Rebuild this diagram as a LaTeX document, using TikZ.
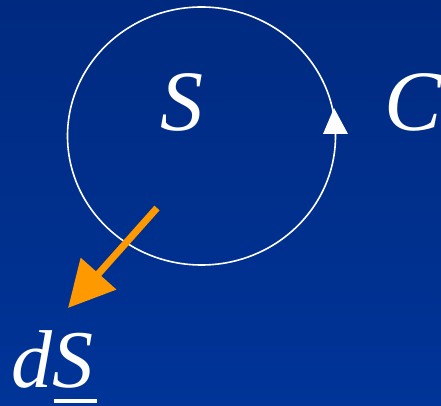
\documentclass[tikz,border=0pt]{standalone}
\usepackage{fontspec}
\setmainfont{Liberation Serif}
\usetikzlibrary{arrows.meta,shapes.geometric}
\definecolor{bgtop}{RGB}{0,42,128}
\definecolor{bgbot}{RGB}{0,52,152}
\definecolor{vecorange}{RGB}{255,153,0}
\tikzset{
  lbl/.style={text=white, inner sep=0pt, anchor=base, font=\fontsize{86}{90}\selectfont\itshape},
  loopline/.style={draw=white, line width=1.6pt},
  vec/.style={draw=vecorange, line width=7pt, -{Triangle[length=46pt,width=46pt]}}
}
\begin{document}
\begin{tikzpicture}[x=1pt,y=-1pt]
\shade[top color=bgtop, bottom color=bgbot] (0,0) rectangle (441,406);
\useasboundingbox (0,0) rectangle (441,406);
\node[loopline, ellipse, minimum width=268pt, minimum height=258pt, inner sep=0pt] (loop) at (201.5,136) {};
\coordinate (tip) at (334,108);
\fill[white] (tip) -- (323,134) -- (348,134) -- cycle;
\node[lbl] (S) at (182,131) {S};
\node[lbl, anchor=base west] (C) at (384,131) {C};
\coordinate (vstart) at (157,208);
\coordinate (vend) at (68,308);
\draw[vec] (vstart) -- (vend);
\node[lbl, anchor=base west, font=\fontsize{82}{86}\selectfont\itshape] (dS) at (11,387) {dS};
\fill[white] (54,399) rectangle (97,403);
\end{tikzpicture}
\end{document}
